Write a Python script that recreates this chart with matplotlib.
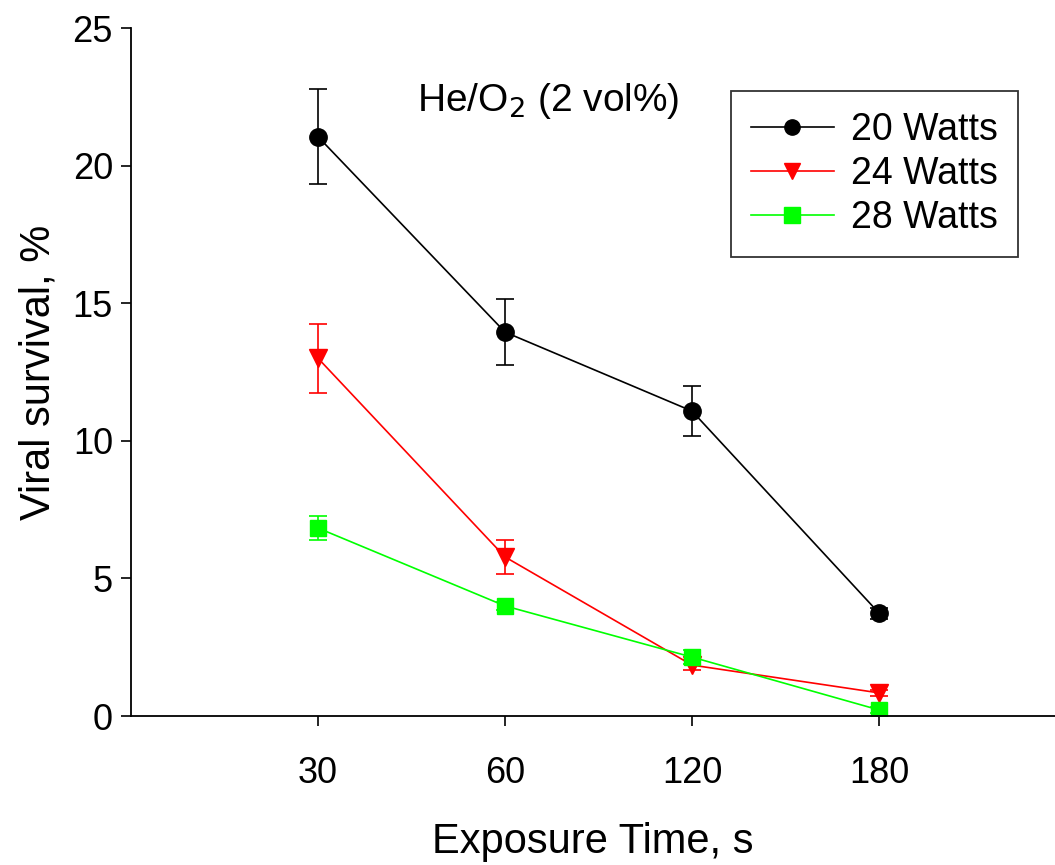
import matplotlib
matplotlib.use("Agg")
import matplotlib.pyplot as plt

plt.rcParams['font.family'] = ['Liberation Sans', 'DejaVu Sans']

times = ["30", "60", "120", "180"]
series = ["20 Watts", "24 Watts", "28 Watts"]
survival_20 = [21.05, 13.95, 11.08, 3.74]
err_20 = [1.72, 1.2, 0.9, 0.2]
survival_24 = [13.0, 5.78, 1.85, 0.84]
err_24 = [1.25, 0.62, 0.18, 0.12]
survival_28 = [6.83, 4.0, 2.14, 0.22]
err_28 = [0.45, 0.15, 0.25, 0.1]

fig = plt.figure(figsize=(10.55, 8.65), dpi=100)
ax = fig.add_axes([131 / 1055, 149 / 865, 1 - 131 / 1055, 688 / 865])

x = list(range(1, len(times) + 1))
styles = [("black", "o", 12.5), ("#ff0000", "v", 12.5), ("#00ff00", "s", 11)]
for vals, errs, name, (col, mk, ms) in zip([survival_20, survival_24, survival_28],
                                           [err_20, err_24, err_28], series, styles):
    ax.errorbar(x, vals, yerr=errs, color=col, fmt='none', capsize=6.5,
                elinewidth=1.2, capthick=1.2)
    ax.plot(x, vals, color=col, marker=mk, markersize=ms, lw=1.2, label=name)

ax.set_xlim(0, 924 / 187)
ax.set_ylim(0, 25)
ax.set_xticks(x)
ax.set_xticklabels(times)
ax.set_yticks([0, 5, 10, 15, 20, 25])
ax.spines['top'].set_visible(False)
ax.spines['right'].set_visible(False)
ax.spines['left'].set_linewidth(1.3)
ax.spines['bottom'].set_linewidth(1.3)
ax.tick_params(axis='y', direction='out', length=7, width=1.2, labelsize=26, pad=6)
ax.tick_params(axis='x', direction='out', length=7, width=1.2, labelsize=26, pad=22)

ax.set_xlabel("Exposure Time, s", fontsize=30, labelpad=22)
ax.set_ylabel("Viral survival, %", fontsize=30, labelpad=10)

ax.text(1.53, 22.35, "He/O$_2$ (2 vol%)", fontsize=28, ha='left', va='center')

leg = ax.legend(loc='upper right', bbox_to_anchor=(0.96, 0.908), fontsize=27,
                frameon=True, fancybox=False, edgecolor='black', handlelength=2.2,
                borderpad=0.55, labelspacing=0.22, handletextpad=0.45, borderaxespad=0)
leg._legend_box.sep = 0
leg.get_frame().set_linewidth(1.3)
for h in leg.legend_handles:
    h.set_markersize(11)

fig.savefig("out.png", dpi=100)
